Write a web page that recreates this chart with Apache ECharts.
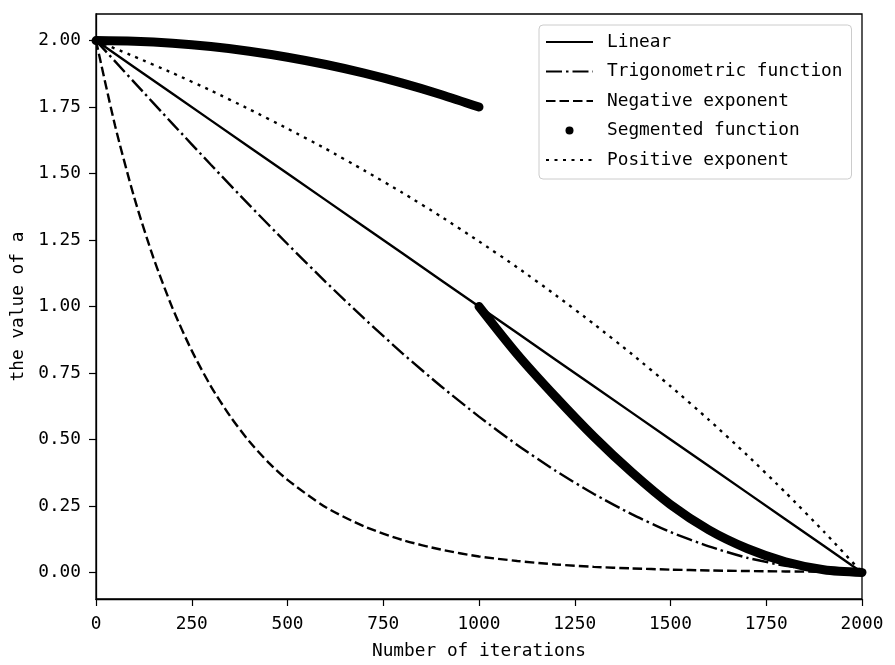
<!DOCTYPE html>
<html>
<head>
<meta charset="utf-8">
<script src="https://cdn.jsdelivr.net/npm/echarts@6/dist/echarts.min.js"></script>
<style>
  html, body { margin: 0; padding: 0; background: #fff; }
  #chart { width: 895px; height: 665px; }
</style>
</head>
<body>
<div id="chart"></div>
<script>
// Decay schedules of the parameter a over 2000 iterations.
const iter = [0, 100, 200, 300, 400, 500, 600, 700, 800, 900, 1000,
              1100, 1200, 1300, 1400, 1500, 1600, 1700, 1800, 1900, 2000];

const linear = [2.0, 1.9, 1.8, 1.7, 1.6, 1.5, 1.4, 1.3, 1.2, 1.1, 1.0,
                0.9, 0.8, 0.7, 0.6, 0.5, 0.4, 0.3, 0.2, 0.1, 0.0];

const trigonometric = [2.0, 1.843, 1.687, 1.533, 1.382, 1.235, 1.092, 0.955, 0.824, 0.701, 0.586,
                       0.479, 0.382, 0.295, 0.218, 0.152, 0.098, 0.055, 0.025, 0.006, 0.0];

const negIter = [0, 50, 100, 150, 200, 250, 300, 350, 400, 450, 500,
                 600, 700, 800, 900, 1000, 1100, 1200, 1300, 1400, 1500,
                 1600, 1700, 1800, 1900, 2000];
const negativeExp = [2.0, 1.679, 1.409, 1.183, 0.993, 0.834, 0.700, 0.588, 0.493, 0.414, 0.348,
                     0.245, 0.173, 0.122, 0.086, 0.060, 0.043, 0.030, 0.021, 0.015, 0.0105,
                     0.0074, 0.0052, 0.0037, 0.0026, 0.0018];

const segIterA = [0, 100, 200, 300, 400, 500, 600, 700, 800, 900, 1000];
const segmentedA = [2.0, 1.9975, 1.990, 1.9775, 1.960, 1.9375, 1.910, 1.8775, 1.840, 1.7975, 1.75];
const segIterB = [1000, 1100, 1200, 1300, 1400, 1500, 1600, 1700, 1800, 1900, 2000];
const segmentedB = [1.0, 0.82, 0.66, 0.51, 0.375, 0.255, 0.16, 0.09, 0.04, 0.01, 0.0];

const positiveExp = [2.0, 1.940, 1.878, 1.812, 1.742, 1.669, 1.593, 1.512, 1.428, 1.339, 1.245,
                     1.147, 1.043, 0.934, 0.820, 0.700, 0.574, 0.441, 0.301, 0.154, 0.0];

const yTicks = [0, 0.25, 0.5, 0.75, 1.0, 1.25, 1.5, 1.75, 2.0];

const names = ['Linear', 'Trigonometric function', 'Negative exponent',
               'Segmented function', 'Positive exponent'];

const zip = (xs, ys) => xs.map((x, i) => [x, ys[i]]);

const FONT = 'DejaVu Sans Mono';
const FS = 17.8;
const LW = 2.4;

const lineSeries = (name, xs, ys, type, smooth) => ({
  name: name,
  type: 'line',
  data: zip(xs, ys),
  symbol: 'none',
  smooth: smooth || false,
  color: '#000',
  lineStyle: { color: '#000', width: LW, type: type, cap: 'butt' },
  z: 2
});

// legend entries for plain lines: show only the stroke, no marker
const lineEntry = name => ({ name: name, itemStyle: { opacity: 0 } });

const chart = echarts.init(document.getElementById('chart'), null, { renderer: 'canvas' });

chart.setOption({
  animation: false,
  backgroundColor: '#fff',
  grid: {
    left: 96, top: 14, width: 766, height: 591,
    show: true, borderColor: '#000', borderWidth: 1.3, backgroundColor: 'transparent'
  },
  legend: {
    orient: 'vertical',
    left: 539, top: 25,
    itemWidth: 47, itemHeight: 8, itemGap: 11.5,
    padding: [8, 9, 10, 6],
    backgroundColor: 'rgba(255,255,255,0.85)',
    borderColor: '#cccccc', borderWidth: 1, borderRadius: 4,
    textStyle: { fontFamily: FONT, fontSize: FS, color: '#000', lineHeight: 18, padding: [0, 0, 0, 9] },
    data: [
      lineEntry(names[0]),
      lineEntry(names[1]),
      lineEntry(names[2]),
      { name: names[3], icon: 'circle' },
      lineEntry(names[4])
    ]
  },
  xAxis: {
    type: 'value',
    min: 0, max: 2000, interval: 250,
    axisLine: { show: true, onZero: false, lineStyle: { color: '#000', width: 1.3 } },
    axisTick: { show: true, inside: false, length: 7, lineStyle: { color: '#000', width: 1.2 } },
    axisLabel: { fontFamily: FONT, fontSize: FS, color: '#000', margin: 16,
                 formatter: v => String(v) },
    splitLine: { show: false },
    name: 'Number of iterations',
    nameLocation: 'middle',
    nameGap: 43,
    nameTextStyle: { fontFamily: FONT, fontSize: FS, color: '#000' }
  },
  yAxis: {
    type: 'value',
    min: -0.1, max: 2.1,
    axisLine: { show: true, onZero: false, lineStyle: { color: '#000', width: 1.3 } },
    axisTick: { show: true, inside: false, length: 7, customValues: yTicks,
                lineStyle: { color: '#000', width: 1.2 } },
    axisLabel: { fontFamily: FONT, fontSize: FS, color: '#000', margin: 15,
                 customValues: yTicks, formatter: v => v.toFixed(2) },
    splitLine: { show: false },
    name: 'the value of a',
    nameLocation: 'middle',
    nameGap: 65,
    nameTextStyle: { fontFamily: FONT, fontSize: FS, color: '#000' }
  },
  series: [
    lineSeries(names[0], iter, linear, 'solid'),
    lineSeries(names[1], iter, trigonometric, [16, 4, 2.5, 4], 0.2),
    lineSeries(names[2], negIter, negativeExp, [9.5, 4], 0.25),
    {
      name: names[3], type: 'line', data: zip(segIterA, segmentedA),
      symbol: 'none', color: '#000', smooth: 0.3,
      lineStyle: { color: '#000', width: 9, cap: 'round', join: 'round' }, z: 3
    },
    {
      name: names[3], type: 'line', data: zip(segIterB, segmentedB),
      symbol: 'none', color: '#000', smooth: 0.3,
      lineStyle: { color: '#000', width: 9, cap: 'round', join: 'round' }, z: 3
    },
    lineSeries(names[4], iter, positiveExp, [3, 5.5], 0.2)
  ]
});
</script>
</body>
</html>
